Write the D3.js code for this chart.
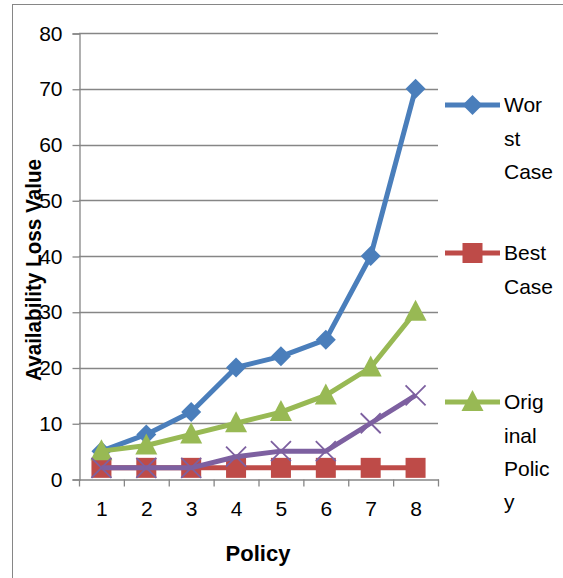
<!DOCTYPE html>
<html>
<head>
<meta charset="utf-8">
<script src="https://cdn.jsdelivr.net/npm/d3@7"></script>
<style>
  body { margin: 0; background: #fff; }
  text { font-family: "Liberation Sans", Arial, sans-serif; }
</style>
</head>
<body>
<div id="chart"></div>
<script>
const width = 563, height = 578;

const policies = [1, 2, 3, 4, 5, 6, 7, 8];
const worstCase = [5, 8, 12, 20, 22, 25, 40, 70];
const bestCase = [2, 2, 2, 2, 2, 2, 2, 2];
const originalPolicy = [5, 6, 8, 10, 12, 15, 20, 30];
const fourthSeries = [2, 2, 2, 4, 5, 5, 10, 15];
const yTicks = [0, 10, 20, 30, 40, 50, 60, 70, 80];

const series = [
  { name: "Worst Case", lines: ["Wor", "st", "Case"], values: worstCase, color: "#4a7ebb", marker: "diamond" },
  { name: "Best Case", lines: ["Best", "Case"], values: bestCase, color: "#be4b48", marker: "square" },
  { name: "Original Policy", lines: ["Orig", "inal", "Polic", "y"], values: originalPolicy, color: "#98b954", marker: "triangle" },
  { name: "Series 4", lines: [], values: fourthSeries, color: "#7d60a0", marker: "cross" }
];

const svg = d3.select("#chart").append("svg")
  .attr("width", width)
  .attr("height", height);

// chart frame (runs off the right and bottom edge)
svg.append("rect")
  .attr("x", 12.5).attr("y", 4.5)
  .attr("width", 620).attr("height", 620)
  .attr("fill", "none").attr("stroke", "#868686");

const x = d3.scaleBand().domain(policies).range([79, 438]);
const y = d3.scaleLinear().domain([0, 80]).range([479, 33]);

// gridlines
svg.append("g").selectAll("line")
  .data(yTicks.filter(d => d > 0))
  .enter().append("line")
  .attr("x1", 79).attr("x2", 438)
  .attr("y1", d => Math.round(y(d)) + 0.5).attr("y2", d => Math.round(y(d)) + 0.5)
  .attr("stroke", "#868686").attr("stroke-width", 1.3);

// y axis
const yAxis = svg.append("g")
  .attr("transform", "translate(79.5,0.5)")
  .call(d3.axisLeft(y).tickValues(yTicks).tickSize(7).tickPadding(10));
yAxis.selectAll("path, line").attr("stroke", "#868686").attr("stroke-width", 1.3);
yAxis.selectAll("text").attr("font-size", 21).attr("fill", "#000")
  .style("font-family", "Liberation Sans, Arial, sans-serif");

// x axis
const xAxis = svg.append("g")
  .attr("transform", "translate(0.5,479.5)")
  .call(d3.axisBottom(x).tickSize(0).tickPadding(22));
xAxis.select("path").attr("stroke", "#868686").attr("stroke-width", 1.3);
xAxis.selectAll("text").attr("font-size", 21).attr("fill", "#000")
  .style("font-family", "Liberation Sans, Arial, sans-serif");
xAxis.selectAll(".bt").data(d3.range(9)).enter().append("line")
  .attr("x1", i => x.range()[0] + i * x.bandwidth()).attr("x2", i => x.range()[0] + i * x.bandwidth())
  .attr("y1", 0).attr("y2", 7)
  .attr("stroke", "#868686").attr("stroke-width", 1.3);

// axis titles
svg.append("text")
  .attr("x", 258).attr("y", 561)
  .attr("text-anchor", "middle")
  .attr("font-size", 22).attr("font-weight", "bold")
  .text("Policy");

svg.append("text")
  .attr("transform", "translate(41,270) rotate(-90)")
  .attr("text-anchor", "middle")
  .attr("font-size", 22).attr("font-weight", "bold")
  .attr("textLength", 222).attr("lengthAdjust", "spacingAndGlyphs")
  .text("Availability Loss Value");

const cx = d => x(d) + x.bandwidth() / 2;

function drawMarker(g, type, color) {
  if (type === "diamond") {
    g.append("path").attr("d", "M0,-10L10,0L0,10L-10,0Z").attr("fill", color);
  } else if (type === "square") {
    g.append("rect").attr("x", -10).attr("y", -10).attr("width", 20).attr("height", 20).attr("fill", color);
  } else if (type === "triangle") {
    g.append("path").attr("d", "M0,-12L11,9L-11,9Z").attr("fill", color);
  } else if (type === "cross") {
    g.append("path").attr("d", "M-10,-10L10,10M-10,10L10,-10")
      .attr("stroke", color).attr("stroke-width", 1.8).attr("fill", "none");
  }
}

const line = d3.line().x(d => cx(d.p)).y(d => y(d.v));

series.forEach(s => {
  const pts = policies.map((p, i) => ({ p: p, v: s.values[i] }));
  const g = svg.append("g");
  g.append("path")
    .datum(pts)
    .attr("d", line)
    .attr("fill", "none")
    .attr("stroke", s.color)
    .attr("stroke-width", 5)
    .attr("stroke-linejoin", "round");
  pts.forEach(d => {
    const m = g.append("g").attr("transform", `translate(${cx(d.p)},${y(d.v)})`);
    drawMarker(m, s.marker, s.color);
  });
});

// legend
const legendY = [105, 253, 402];
series.slice(0, 3).forEach((s, i) => {
  const g = svg.append("g").attr("transform", `translate(445,${legendY[i]})`);
  g.append("line").attr("x1", 0).attr("x2", 55).attr("y1", 0).attr("y2", 0)
    .attr("stroke", s.color).attr("stroke-width", 5);
  const m = g.append("g").attr("transform", "translate(27.5,0)");
  drawMarker(m, s.marker, s.color);
  s.lines.forEach((t, j) => {
    g.append("text")
      .attr("x", 59).attr("y", j * 33.3)
      .attr("dy", "0.35em")
      .attr("font-size", 21)
      .text(t);
  });
});
</script>
</body>
</html>
